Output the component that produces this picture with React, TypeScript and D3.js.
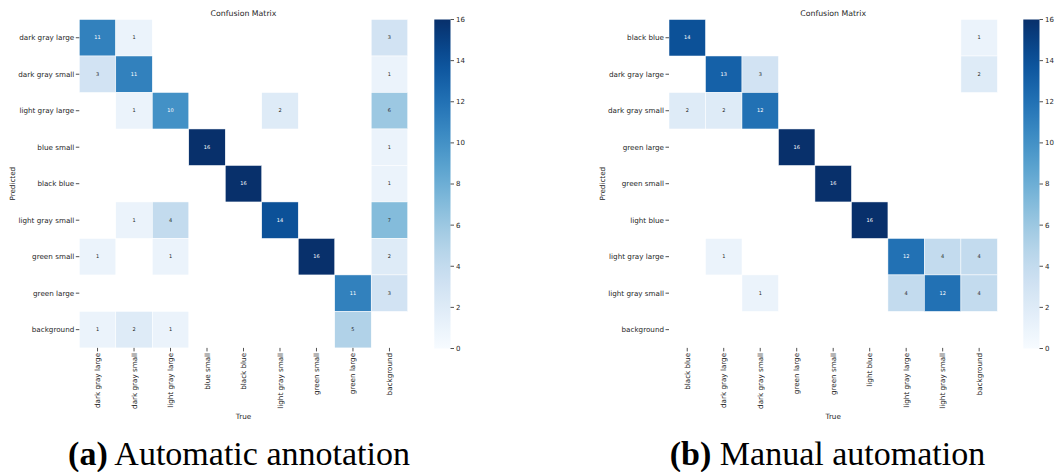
import React from "react";
import * as d3 from "d3";

const labelsA = ["dark gray large", "dark gray small", "light gray large", "blue small", "black blue", "light gray small", "green small", "green large", "background"];
const matrixA = [
  [11, 1, 0, 0, 0, 0, 0, 0, 3],
  [3, 11, 0, 0, 0, 0, 0, 0, 1],
  [0, 1, 10, 0, 0, 2, 0, 0, 6],
  [0, 0, 0, 16, 0, 0, 0, 0, 1],
  [0, 0, 0, 0, 16, 0, 0, 0, 1],
  [0, 1, 4, 0, 0, 14, 0, 0, 7],
  [1, 0, 1, 0, 0, 0, 16, 0, 2],
  [0, 0, 0, 0, 0, 0, 0, 11, 3],
  [1, 2, 1, 0, 0, 0, 0, 5, 0],
];
const labelsB = ["black blue", "dark gray large", "dark gray small", "green large", "green small", "light blue", "light gray large", "light gray small", "background"];
const matrixB = [
  [14, 0, 0, 0, 0, 0, 0, 0, 1],
  [0, 13, 3, 0, 0, 0, 0, 0, 2],
  [2, 2, 12, 0, 0, 0, 0, 0, 0],
  [0, 0, 0, 16, 0, 0, 0, 0, 0],
  [0, 0, 0, 0, 16, 0, 0, 0, 0],
  [0, 0, 0, 0, 0, 16, 0, 0, 0],
  [0, 1, 0, 0, 0, 0, 12, 4, 4],
  [0, 0, 1, 0, 0, 0, 4, 12, 4],
  [0, 0, 0, 0, 0, 0, 0, 0, 0],
];
const colorbarTicks = [0, 2, 4, 6, 8, 10, 12, 14, 16];
const captionA = ["(a)", "Automatic annotation"];
const captionB = ["(b)", "Manual automation"];

const FONT = "'DejaVu Sans', sans-serif";
const TXT = "#262626";
const color = d3.scaleSequential(d3.interpolateBlues).domain([0, 16]);

function Panel({ id, labels, matrix, x0, cbx, caption, capX }: any) {
  const y0 = 19.5;
  const size = 328.4;
  const bottom = y0 + size;
  const xs = d3.scaleBand<string>().domain(labels).range([x0, x0 + size]);
  const ys = d3.scaleBand<string>().domain(labels).range([y0, bottom]);
  const cbScale = d3.scaleLinear().domain([0, 16]).range([348.5, 19.5]);
  const cbW = 16.2;
  const cx = x0 + size / 2;
  const stops = d3.range(0, 1.0001, 0.05);
  return (
    <g>
      <defs>
        <linearGradient id={id} x1="0" y1="1" x2="0" y2="0">
          {stops.map((t) => (
            <stop key={t} offset={t} stopColor={d3.interpolateBlues(t)} />
          ))}
        </linearGradient>
      </defs>
      <text x={cx} y={15.5} textAnchor="middle" fontFamily={FONT} fontSize={7.8} fill={TXT}>Confusion Matrix</text>
      {matrix.map((row: number[], i: number) =>
        row.map((v: number, j: number) =>
          v > 0 ? (
            <g key={`${i}-${j}`}>
              <rect x={xs(labels[j])} y={ys(labels[i])} width={xs.bandwidth()} height={ys.bandwidth()} fill={color(v)} stroke="#ffffff" strokeWidth={0.5} />
              <text x={(xs(labels[j]) as number) + xs.bandwidth() / 2} y={(ys(labels[i]) as number) + ys.bandwidth() / 2} dy="0.35em" textAnchor="middle" fontFamily={FONT} fontSize={5} fill={v >= 9 ? "#ffffff" : TXT}>{v}</text>
            </g>
          ) : null
        )
      )}
      {labels.map((l: string) => {
        const yc = (ys(l) as number) + ys.bandwidth() / 2;
        return (
          <g key={"y" + l}>
            <line x1={x0 - 3.5} x2={x0} y1={yc} y2={yc} stroke={TXT} strokeWidth={0.8} />
            <text x={x0 - 5} y={yc} dy="0.35em" textAnchor="end" fontFamily={FONT} fontSize={7.2} fill={TXT}>{l}</text>
          </g>
        );
      })}
      {labels.map((l: string) => {
        const xc = (xs(l) as number) + xs.bandwidth() / 2;
        return (
          <g key={"x" + l}>
            <line x1={xc} x2={xc} y1={bottom} y2={bottom + 3.5} stroke={TXT} strokeWidth={0.8} />
            <text transform={`translate(${xc},${bottom + 5}) rotate(-90)`} dy="0.35em" textAnchor="end" fontFamily={FONT} fontSize={7.2} fill={TXT}>{l}</text>
          </g>
        );
      })}
      <text x={cx} y={419} textAnchor="middle" fontFamily={FONT} fontSize={7.2} fill={TXT}>True</text>
      <text transform={`translate(${x0 - 64.5},${y0 + size / 2}) rotate(-90)`} textAnchor="middle" fontFamily={FONT} fontSize={7.2} fill={TXT}>Predicted</text>
      <rect x={cbx} y={19.5} width={cbW} height={329} fill={`url(#${id})`} />
      {colorbarTicks.map((t) => (
        <g key={"c" + t}>
          <line x1={cbx + cbW} x2={cbx + cbW + 3.5} y1={cbScale(t)} y2={cbScale(t)} stroke={TXT} strokeWidth={0.8} />
          <text x={cbx + cbW + 5.5} y={cbScale(t)} dy="0.35em" fontFamily={FONT} fontSize={7} fill={TXT}>{t}</text>
        </g>
      ))}
      <text x={capX} y={465} textAnchor="middle" fontFamily="'Liberation Serif', serif" fontSize={34} fill="#000">
        <tspan fontWeight="bold">{caption[0]}</tspan>
        <tspan> {caption[1]}</tspan>
      </text>
    </g>
  );
}

export default function App() {
  return (
    <svg width={1055} height={472} style={{ position: "absolute", left: 0, top: 0, background: "#fff" }}>
      <rect width={1055} height={472} fill="#fff" />
      <Panel id="cbA" labels={labelsA} matrix={matrixA} x0={79.3} cbx={434.3} caption={captionA} capX={239} />
      <Panel id="cbB" labels={labelsB} matrix={matrixB} x0={669} cbx={1023.3} caption={captionB} capX={827.5} />
    </svg>
  );
}
